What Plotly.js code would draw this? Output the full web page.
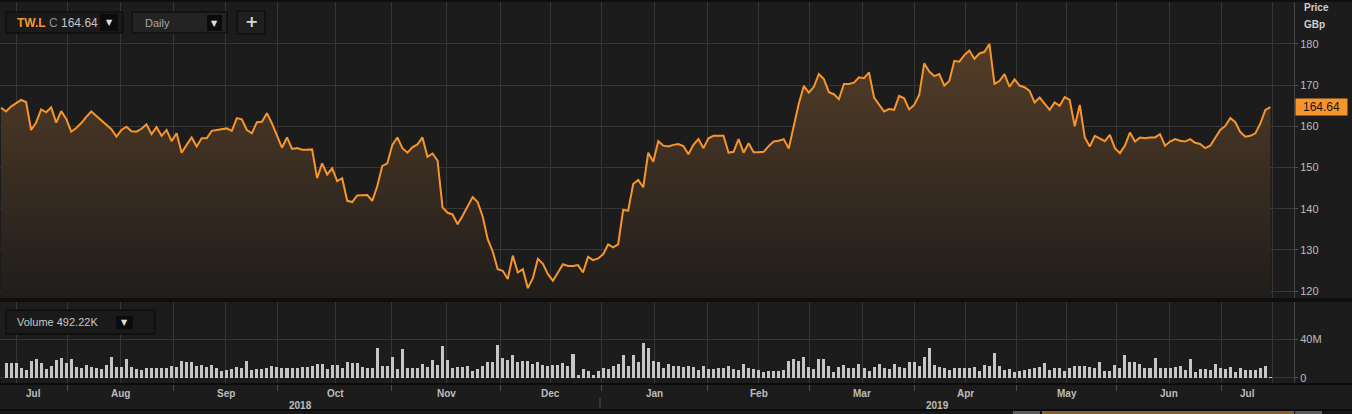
<!DOCTYPE html>
<html>
<head>
<meta charset="utf-8">
<script src="https://cdn.plot.ly/plotly-3.0.1.min.js"></script>
<style>
html,body{margin:0;padding:0;background:#1c1c1c;}
#chart{width:1352px;height:414px;}
</style>
</head>
<body>
<div id="chart"></div>
<script>
// ---- DATA (TW.L daily close, GBp) ----
const closePrice = [
164.5,163.6,164.8,165.6,166.4,165.9,159.1,160.9,164.1,163.4,
164.6,160.9,163.7,161.8,158.7,159.6,160.8,162.3,163.6,162.5,
161.4,160.5,159.3,157.5,159.1,159.9,158.8,158.7,159.4,160.5,
158.1,159.8,157.7,159.1,156.4,158.3,153.6,155.5,157.3,155.1,
157.1,157.1,158.9,159.1,159.3,159.5,158.9,162.0,161.7,159.1,
158.3,161.0,161.1,163.2,160.7,157.9,154.8,157.3,154.5,154.7,
154.3,154.3,154.4,147.4,151.0,148.3,149.8,146.7,147.4,141.9,
141.6,143.2,143.2,143.3,141.9,145.5,150.4,151.0,155.5,157.3,
154.7,153.6,154.9,155.6,157.3,152.6,153.4,151.7,140.3,139.0,
138.6,136.2,138.3,140.5,142.8,141.6,138.1,132.6,129.6,125.3,
124.9,122.9,128.6,124.5,125.3,120.7,123.1,127.8,126.6,124.1,
122.5,124.5,126.5,126.1,126.1,126.3,124.5,128.3,127.5,127.9,
128.9,131.3,130.6,131.3,139.7,139.5,146.0,147.0,145.2,153.6,
151.4,156.4,155.3,155.1,155.5,155.7,155.2,153.2,155.5,156.9,
154.7,157.1,157.7,157.7,157.7,153.6,153.8,156.9,153.6,155.9,
153.7,153.7,153.8,155.2,156.3,156.5,156.9,154.6,160.0,165.5,
169.8,168.2,169.6,172.7,171.5,168.3,167.8,166.6,170.3,170.3,
170.6,171.9,171.7,173.1,167.0,165.4,163.6,164.2,164.0,167.4,
166.8,164.1,165.2,167.6,175.3,173.3,172.2,172.7,169.9,171.0,
175.9,175.7,177.3,178.4,176.4,177.7,178.1,180.0,170.3,171.0,
172.7,169.6,171.4,169.9,169.5,168.6,165.8,167.0,165.4,164.0,
165.8,165.0,167.1,166.4,160.0,165.2,157.3,155.1,157.7,157.0,
156.4,157.9,154.7,153.5,155.3,158.5,156.3,157.3,157.1,157.3,
157.3,158.1,155.3,156.3,156.9,156.5,156.3,156.9,156.0,155.7,
154.7,155.3,157.3,159.1,160.1,162.0,161.0,158.6,157.5,157.7,
158.3,160.7,164.0,164.64
];
// volume in millions of shares
const volumeM = [
15,15,15,9.9,8.2,17.8,19.5,15.7,9.2,12.3,
18.5,20.2,15.7,19.5,11.6,9.9,13,11.6,9.9,9.2,
13.3,21.2,11.6,11.6,19.5,11.6,9.2,8.2,9.9,10.6,
10.6,10.6,10.6,12.3,11.6,17.4,16.4,16.4,12.6,13,
11.6,13,10.6,7.5,8.2,9.2,11.6,10.6,17.8,8.2,
9.2,9.2,10.6,12.6,11.6,10.6,10.6,10.6,10.6,11.6,
11.6,12.3,14,14,9.2,13,13,10.6,16.4,15,
15,11.6,9.9,10.6,30.4,12.6,12.3,21.2,9.2,
29.4,10.6,9.9,10.6,14,10.9,18.5,13,33.2,18.1,
9.9,11.6,10.9,12.6,7.5,8.9,12.6,16.4,16.4,33.8,
20.2,18.1,23.9,16.4,17.1,17.1,14.7,16.1,13.7,12.6,
13,13,15,12.6,24.3,3.1,8.9,7.2,3.4,7.5,
10.6,8.9,12.6,14,23.2,12.3,23.2,16.1,36.3,30.4,
17.1,16.8,9.9,14.4,12.3,12.3,11.6,12.6,11.6,8.2,
12.3,8.9,9.2,10.6,10.6,12.3,8.9,8.2,14,9.9,
9.2,8.2,6.5,7.2,7.2,7.2,8.2,17.8,19.8,17.8,
21.2,11.6,9.2,19.1,19.1,12.3,5.8,11.6,13,10.6,
10.6,14,9.9,7.2,11.6,14.4,9.9,8.9,14,11.6,
9.9,16.1,16.1,12.3,21.2,31.1,13,10.9,10.6,8.2,
10.6,9.9,10.6,10.6,10.9,7.5,13,12.3,25.3,12.3,
8.2,8.9,5.8,7.2,8.2,9.2,9.9,11.6,15,8.2,
9.9,9.9,7.2,9.9,12.3,12.3,12.3,11.6,10.6,16.8,
7.2,7.2,13,9.9,23.2,16.4,16.4,14.4,10.6,10.6,
20.9,9.9,9.9,10.6,11.6,12.3,8.2,19.5,6.5,8.9,
8.9,8.2,14.4,9.9,9.2,11.6,6.5,9.9,8.2,8.2,
8.2,10.6,12.3,0.49
];
const monthLabels = ['Jul','Aug','Sep','Oct','Nov','Dec','Jan','Feb','Mar','Apr','May','Jun','Jul'];
const yearLabels = ['2018','2019'];
const priceTicks = [120,130,140,150,160,170,180];
const volTicks = [0, 40];
const volTickText = ['0','40M'];
const lastClose = '164.64';
const lastVolume = '492.22K';
const ticker = 'TW.L';
const interval = 'Daily';

// ---- LAYOUT HELPERS (trading-day index positions) ----
const volX = volumeM.map((_, i) => i);
const priceX = closePrice.map((_, i) => i - 1);
const volY = volumeM.map(v => v * 1e6);
const monthBounds = [12.2,33.3,54.2,76.9,98.5,118.6,139.9,160.1,181.0,201.3,221.4,242.2];
const monthMids = [2.1,22.8,43.8,65.6,87.7,108.6,129.3,150.0,170.6,191.2,211.4,231.8,252.5];
const labelPos = [5.4,22.8,43.8,65.6,87.7,108.6,129.3,150.0,170.6,191.2,211.4,231.8,247.4];
const yearPos = [58.6,185.6];
const gridPos = monthBounds.concat(monthMids).sort((a,b)=>a-b);

const W = 1294, H = 414;
const px = x => x / W;
const py = y => 1 - y / H;

const FONT = 'Liberation Sans, Arial, sans-serif';
const TXT = '#c4c4c4';
const GRID = '#363636';

const traces = [
  {
    type: 'scatter', mode: 'lines', x: priceX, y: closePrice,
    xaxis: 'x', yaxis: 'y',
    line: {color: '#f7952d', width: 2},
    fill: 'tozeroy',
    fillgradient: {type: 'vertical', start: 118, stop: 181,
      colorscale: [[0, '#1f1d1b'], [1, '#553e28']]},
    hoverinfo: 'skip'
  },
  {
    type: 'bar', x: volX, y: volY, xaxis: 'x2', yaxis: 'y2',
    marker: {color: '#c6c6c6', line: {width: 0}}, width: 0.6,
    hoverinfo: 'skip'
  }
];

const shapes = [];
const annotations = [];
function rect(x0, y0, x1, y1, fill, line) {
  shapes.push({type: 'rect', xref: 'paper', yref: 'paper', x0: px(x0), x1: px(x1), y0: py(y1), y1: py(y0),
    fillcolor: fill, line: {color: line || fill, width: line ? 1 : 0}, layer: 'above'});
}
function text(x, y, t, opts) {
  annotations.push(Object.assign({xref: 'paper', yref: 'paper', x: px(x), y: py(y), text: t,
    showarrow: false, xanchor: 'left', yanchor: 'middle',
    font: {family: FONT, size: 11, color: TXT}}, opts || {}));
}

// panel separators
rect(0, 0, 1352, 2, '#0f0f0f');
rect(0, 298, 1352, 302, '#0f0f0f');
rect(0, 383, 1352, 385, '#0c0c0c');
rect(0, 409, 1352, 411, '#0c0c0c');
rect(0, 411, 1352, 414, '#161616');
// navigator strip
rect(1013, 411, 1040, 414, '#5a5a5a');
rect(1042, 411, 1294, 414, '#86602f');
rect(1295, 411, 1322, 414, '#5a5a5a');
// year separator
shapes.push({type: 'line', xref: 'paper', yref: 'paper', x0: px(600), x1: px(600), y0: py(398), y1: py(408),
  line: {color: '#4a4a4a', width: 1}, layer: 'above'});

// top-left controls
rect(6, 12, 123, 33, '#1a1a1a', '#060606');
rect(100, 14, 118, 31, '#0b0b0b');
text(15, 22.5, '<b><span style="color:#f7952d">' + ticker + '</span></b> <span style="color:#8e8e8e">C</span> ' + lastClose, {font: {family: FONT, size: 12, color: '#c4c4c4'}});
text(109, 22.5, '▼', {xanchor: 'center', font: {family: 'DejaVu Sans', size: 8, color: '#e0e0e0'}});
rect(132, 12, 227, 33, '#232323', '#060606');
rect(207, 15, 222, 31, '#0b0b0b');
text(143, 22.5, interval, {font: {family: FONT, size: 11, color: '#a8a8a8'}});
text(214.5, 23, '▼', {xanchor: 'center', font: {family: 'DejaVu Sans', size: 8, color: '#e0e0e0'}});
rect(237, 11, 265, 34, '#1f1f1f', '#080808');
text(251, 21.5, '<b>+</b>', {xanchor: 'center', font: {family: 'DejaVu Sans', size: 16, color: '#d8d8d8'}});

// volume control
rect(6, 310, 155, 334, '#1a1a1a', '#060606');
rect(116, 316, 133, 329, '#0b0b0b');
text(15, 322, 'Volume ' + lastVolume, {font: {family: FONT, size: 11, color: '#c8c8c8'}});
text(124.5, 322.5, '▼', {xanchor: 'center', font: {family: 'DejaVu Sans', size: 8, color: '#e0e0e0'}});

// axis titles
text(1302, 8, '<b>Price</b>', {font: {family: FONT, size: 10, color: '#cfcfcf'}});
text(1302, 24, '<b>GBp</b>', {font: {family: FONT, size: 10, color: '#cfcfcf'}});

// last price tag
annotations.push({xref: 'paper', yref: 'y', x: px(1295), y: 164.64, xanchor: 'left', yanchor: 'middle',
  text: lastClose, showarrow: false, bgcolor: '#f7952d', width: 49, height: 14, borderpad: 1,
  font: {family: FONT, size: 12, color: '#1a1208'}});

// month & year labels
monthLabels.forEach((m, i) => annotations.push({xref: 'x2', yref: 'paper', x: labelPos[i], y: py(393),
  text: '<b>' + m + '</b>', showarrow: false, xanchor: 'center', yanchor: 'middle',
  font: {family: FONT, size: 10, color: '#bdbdbd'}}));
yearLabels.forEach((m, i) => annotations.push({xref: 'x2', yref: 'paper', x: yearPos[i], y: py(405),
  text: '<b>' + m + '</b>', showarrow: false, xanchor: 'center', yanchor: 'middle',
  font: {family: FONT, size: 10, color: '#bdbdbd'}}));

const xr = [-1.2, 256.7];
const layout = {
  width: 1352, height: 414,
  margin: {l: 0, r: 58, t: 0, b: 0, pad: 0},
  paper_bgcolor: '#1c1c1c', plot_bgcolor: '#1c1c1c',
  showlegend: false, bargap: 0,
  xaxis: {domain: [0, 1], anchor: 'y', range: xr, tickmode: 'array', tickvals: gridPos,
    showticklabels: false, ticks: '', showgrid: true, gridcolor: GRID, gridwidth: 1,
    zeroline: false, showline: false, fixedrange: true},
  yaxis: {domain: [py(298), py(2)], anchor: 'x', side: 'right', range: [118.3, 190.2],
    tickmode: 'array', tickvals: priceTicks, ticks: 'outside', ticklen: 3, tickcolor: '#555',
    showgrid: true, gridcolor: GRID, zeroline: false, showline: true, linecolor: '#444', linewidth: 1,
    tickfont: {family: FONT, size: 11, color: '#bdbdbd'}},
  xaxis2: {domain: [0, 1], anchor: 'y2', range: xr, tickmode: 'array', tickvals: gridPos,
    showticklabels: false, ticks: '', showgrid: true, gridcolor: GRID, zeroline: false, showline: false,
    minor: {tickmode: 'array', tickvals: monthBounds, ticks: 'outside', ticklen: 6, tickcolor: '#4a4a4a', showgrid: false}},
  yaxis2: {domain: [py(384), py(302)], anchor: 'x2', side: 'right', range: [-6.2e6, 78e6],
    tickmode: 'array', tickvals: volTicks.map(v => v * 1e6), ticktext: volTickText,
    ticks: 'outside', ticklen: 3, tickcolor: '#555',
    showgrid: true, gridcolor: GRID, zeroline: false, showline: true, linecolor: '#444', linewidth: 1,
    tickfont: {family: FONT, size: 11, color: '#bdbdbd'}},
  shapes: shapes, annotations: annotations
};

Plotly.newPlot('chart', traces, layout, {staticPlot: true, displayModeBar: false});
</script>
</body>
</html>
